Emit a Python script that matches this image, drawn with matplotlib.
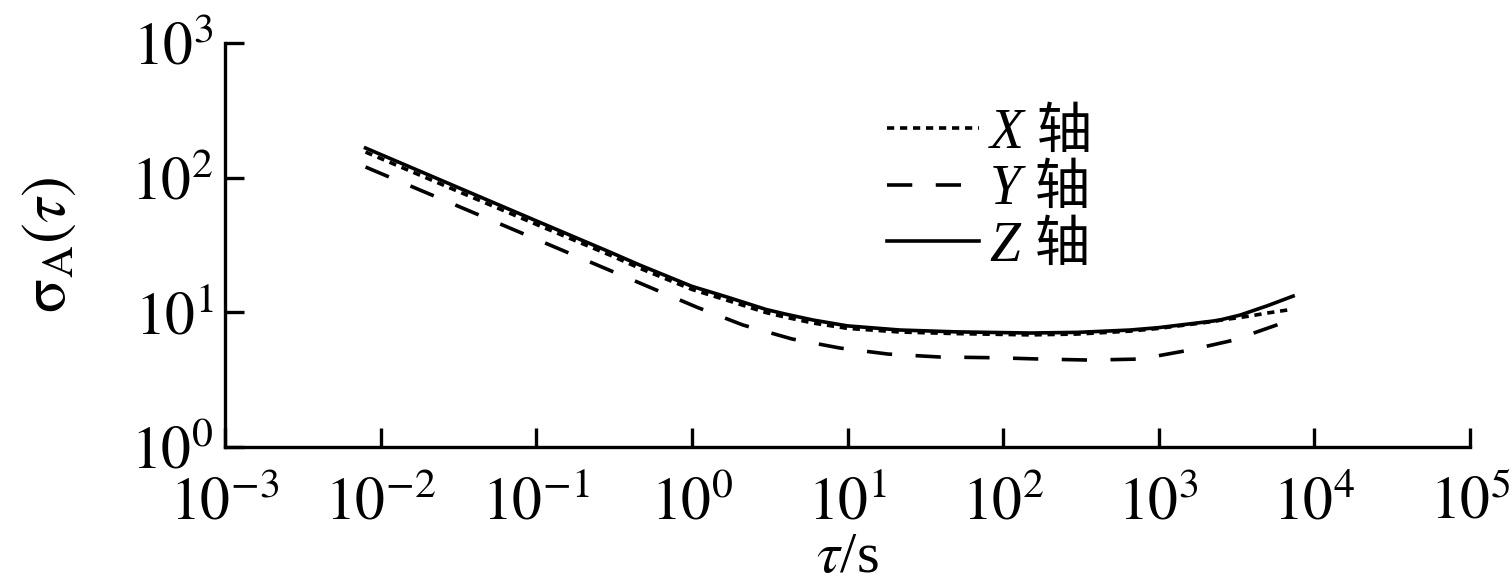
import matplotlib
matplotlib.use("Agg")
import matplotlib.pyplot as plt

plt.rcParams['font.family'] = ['Liberation Serif', 'Noto Sans CJK SC', 'DejaVu Sans']
plt.rcParams['mathtext.fontset'] = 'stix'

tau_x = [0.008, 0.03, 0.1, 0.3, 0.46, 1, 1.68, 3, 4, 6, 10, 21.8, 50, 149, 300, 655,
         1000, 2240, 2500, 3860, 4970, 6700]
sig_x = [155, 81, 45, 26.5, 21.3, 14.8, 12.3, 9.95, 9.2, 8.33, 7.6, 7.14, 6.95, 6.8, 6.9, 7.25,
         7.6, 8.55, 8.75, 9.39, 9.88, 10.4]

tau_y = [0.008, 0.03, 0.1, 0.3, 0.54, 1.08, 2.13, 4.4, 8.95, 18.2, 39, 90, 173, 363,
         760, 1585, 3000, 6490, 7800]
sig_y = [120, 62.9, 34.9, 20.4, 15.3, 10.9, 8.05, 6.34, 5.43, 4.9, 4.66, 4.6, 4.5, 4.42,
         4.5, 5.25, 6.2, 8.47, 8.8]

tau_z = [0.008, 0.03, 0.1, 0.3, 0.46, 1, 1.68, 3, 4, 6, 10, 21.8, 50, 149, 300, 655,
         1000, 2240, 2500, 3340, 5000, 7300]
sig_z = [166, 86.5, 47.8, 27.9, 22.5, 15.6, 13.0, 10.5, 9.7, 8.77, 7.93, 7.39, 7.16, 7.02, 7.1, 7.39,
         7.7, 8.62, 8.8, 9.55, 11.2, 13.2]

labels = ['X 轴', 'Y 轴', 'Z 轴']
xticks = [1e-3, 1e-2, 1e-1, 1e0, 1e1, 1e2, 1e3, 1e4, 1e5]
xticklabels = [r'$10^{-3}$', r'$10^{-2}$', r'$10^{-1}$', r'$10^{0}$', r'$10^{1}$',
               r'$10^{2}$', r'$10^{3}$', r'$10^{4}$', r'$10^{5}$']
yticks = [1e0, 1e1, 1e2, 1e3]
yticklabels = [r'$10^{0}$', r'$10^{1}$', r'$10^{2}$', r'$10^{3}$']

fig = plt.figure(figsize=(15.11, 5.87), dpi=100)
ax = fig.add_axes([225/1511, 1-447/587, (1470-225)/1511, (447-43)/587])

ax.plot(tau_x, sig_x, color='black', lw=2.6, linestyle=(0, (2.0, 1.6)), label=labels[0])
ax.plot(tau_y, sig_y, color='black', lw=2.6, linestyle=(0, (7.0, 6.5)), label=labels[1])
ax.plot(tau_z, sig_z, color='black', lw=2.6, linestyle='-', label=labels[2])

ax.set_xscale('log')
ax.set_yscale('log')
ax.set_xlim(1e-3, 1e5)
ax.set_ylim(1e0, 1e3)
ax.set_xticks(xticks)
ax.set_xticklabels(xticklabels)
ax.set_yticks(yticks)
ax.set_yticklabels(yticklabels)
ax.minorticks_off()

for s in ['top', 'right']:
    ax.spines[s].set_visible(False)
for s in ['left', 'bottom']:
    ax.spines[s].set_linewidth(2.4)

ax.tick_params(axis='both', which='major', direction='in', length=14, width=2.4,
               labelsize=43)
ax.tick_params(axis='x', pad=21)
ax.tick_params(axis='y', pad=8)

ax.set_xlabel(r'$\tau$/s', fontsize=42, labelpad=0)
ax.set_ylabel(r'$\mathrm{\sigma}_{\mathrm{A}}(\tau)$', fontsize=45, labelpad=38)

leg = ax.legend(loc='upper left', bbox_to_anchor=(0.532, 0.84), frameon=False,
                prop={'family': ['Liberation Serif', 'Noto Sans CJK SC'], 'style': 'italic', 'size': 40},
                handlelength=1.65, handletextpad=0.2, labelspacing=0.08, borderpad=0.0,
                borderaxespad=0.0)

fig.savefig('out.png', dpi=100)
